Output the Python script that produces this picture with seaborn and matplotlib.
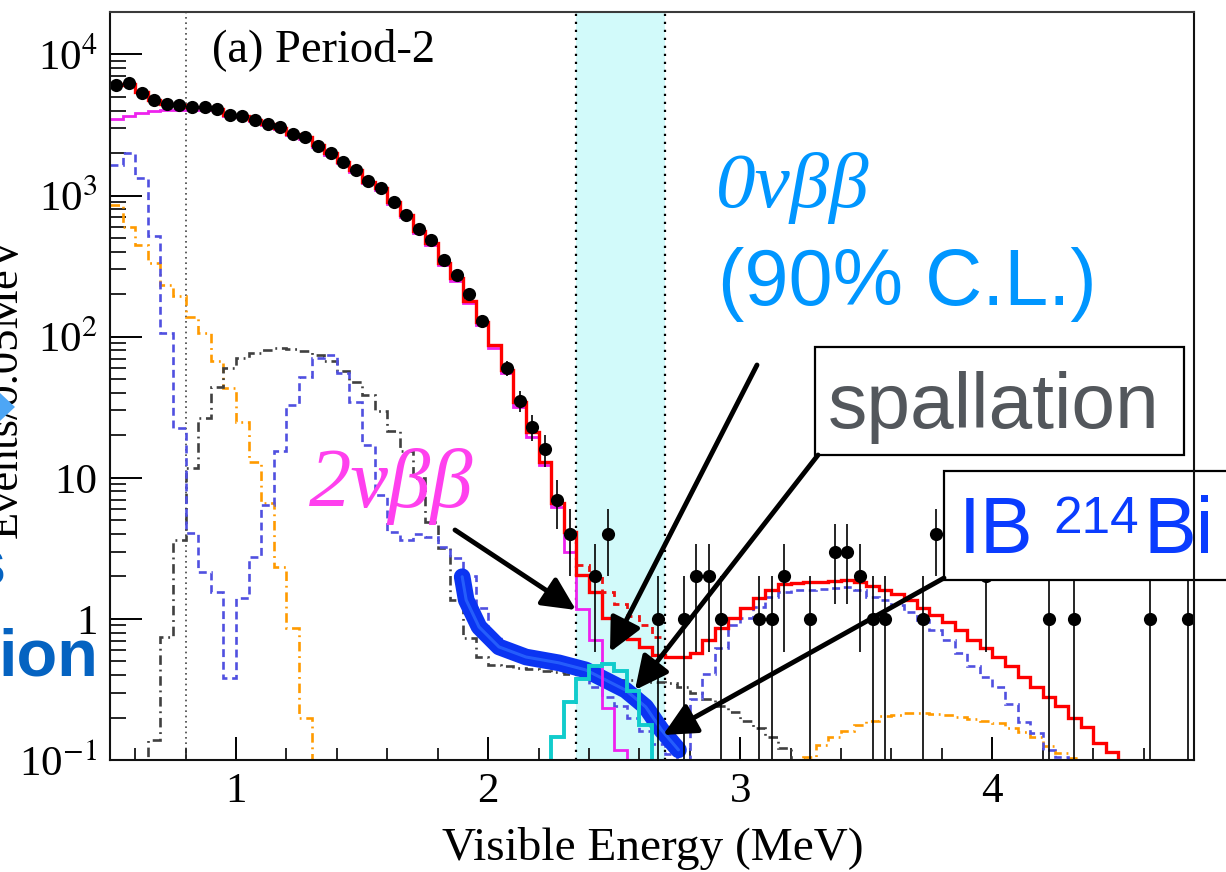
import numpy as np
import matplotlib
matplotlib.use("Agg")
import matplotlib.pyplot as plt
import seaborn as sns
from matplotlib.patches import Rectangle, Polygon
from matplotlib.ticker import FixedLocator, LogLocator, NullFormatter, MultipleLocator

W, H = 1226, 872

# ---------------------------------------------------------------- data
# 0.05 MeV bins between 0.5 and 4.8 MeV
edges = np.round(np.arange(0.5, 4.8001, 0.05), 3)
centers = edges[:-1] + 0.025
lo = 0.05          # below the drawn range (bin still drawn down to the axis)
nan = np.nan

data_counts = [
    6120, 6230, 5370, 4760, 4460, 4350, 4250, 4250, 4140, 3720,
    3690, 3460, 3240, 3040, 2750, 2580, 2260, 1990, 1740, 1530,
    1260, 1140, 907, 733, 583, 487, 352, 275, 202, 130,
    nan, 60, 35, 23, 16, 7, 4, 0, 2, 4,
    0, 0, 0, 1, 0, 1, 2, 2, 1, 0,
    0, 1, 1, 2, 0, 1, 0, 3, 3, 2,
    1, 1, 0, 0, 1, 4, 0, 0, 0, 2,
    0, 0, 0, 0, 1, 0, 1, 0, 0, 0,
    0, 0, 1, 0, 0, 1,
]

total_fit = [
    6100, 6200, 5400, 4750, 4450, 4350, 4250, 4250, 4130, 3750,
    3680, 3460, 3240, 3030, 2750, 2580, 2270, 1990, 1740, 1520,
    1250, 1130, 900, 730, 560, 460, 335, 260, 180, 127,
    88, 58, 34.5, 21, 13, 6.6, 4.14, 2.05, 1.55, 1.01,
    0.84, 0.72, 0.63, 0.555, 0.54, 0.54, 0.57, 0.71, 0.86, 1.01,
    1.2, 1.41, 1.6, 1.77, 1.8, 1.83, 1.83, 1.85, 1.89, 1.83,
    1.72, 1.6, 1.5, 1.36, 1.19, 1.07, 0.95, 0.83, 0.71, 0.62,
    0.54, 0.46, 0.39, 0.33, 0.28, 0.24, 0.20, 0.17, 0.133, 0.114,
    lo, lo, lo, lo, lo, lo,
]

total_with_0nbb = [nan] * 37 + [2.4, 2.05, 1.55, 1.27, 1.05, 0.9, 0.75] + [nan] * 42

two_nbb = [
    3500, 3660, 3860, 3960, 4030, 4060, 4060, 4060, 4030, 3680,
    3620, 3400, 3180, 2980, 2700, 2530, 2220, 1940, 1700, 1480,
    1220, 1100, 870, 700, 540, 445, 322, 250, 172, 121,
    83, 55, 32, 19.5, 12.3, 6.2, 3.0, 1.18, 0.71, 0.235,
    0.118,
] + [lo] * 45

zero_nbb = [nan] * 34 + [lo, 0.146, 0.258, 0.375, 0.46, 0.48, 0.43, 0.31, 0.177, lo] + [nan] * 42

bi214_ib = [
    1660, 1990, 1340, 520, 107, 22.6, 4.07, 2.16, 1.55, 0.38,
    1.41, 2.75, 6.4, 15.6, 33, 52, 71, 74, 55, 34.6,
    17, 7.6, 4.16, 3.6, 4.0, 3.8, 3.24, 2.7, 2.0, 1.2,
    0.75, 0.6, 0.55, 0.5, 0.47, 0.45, 0.42, 0.38, 0.33, 0.28,
    0.24, 0.2, 0.16, 0.13, 0.11, lo, 0.27, 0.41, 0.62, 0.9,
    1.01, 1.22, 1.42, 1.55, 1.6, 1.6, 1.63, 1.66, 1.68, 1.6,
    1.43, 1.36, 1.26, 1.12, 0.98, 0.84, 0.71, 0.57, 0.46, 0.39,
    0.33, 0.25, 0.186, 0.155, 0.118, 0.105, lo, lo, lo, lo,
    lo, lo, lo, lo, lo, lo,
]

spallation = [
    lo, lo, lo, 0.138, 0.75, 3.63, 11.8, 26.6, 44, 60,
    71, 77, 81, 83, 82, 79, 74, 67, 57, 47.5,
    38.7, 29.5, 21.5, 15.5, 10, 4.9, 3.2, 1.36, 0.73, 0.54,
    0.47, 0.46, 0.45, 0.44, 0.43, 0.42, 0.41, 0.40, 0.39, 0.38,
    0.37, 0.37, 0.36, 0.36, 0.35, 0.33, 0.30, 0.27, 0.24, 0.22,
    0.19, 0.168, 0.146, 0.122,
] + [lo] * 32

other_bkg = [
    853, 600, 449, 333, 234, 193, 139, 107, 67, 43.4,
    25, 13.0, 6.6, 2.35, 0.86, 0.198,
] + [lo] * 38 + [
    0.1, 0.105, 0.128, 0.145, 0.16, 0.177,
    0.19, 0.205, 0.21, 0.215, 0.215, 0.213, 0.21, 0.203, 0.195, 0.19,
    0.183, 0.168, 0.159, 0.146, 0.125, 0.112, 0.103,
] + [lo] * 9

# highlighted IB 214Bi contribution (energy in MeV, events)
band_energy = [1.897, 1.913, 1.964, 2.043, 2.150, 2.281, 2.387, 2.466, 2.545, 2.625, 2.688, 2.755]
band_events = [1.99, 1.36, 0.877, 0.633, 0.537, 0.488, 0.435, 0.369, 0.313, 0.238, 0.163, 0.118]

roi = (2.35, 2.70)
y_ticks = [0.1, 1, 10, 100, 1000, 10000]
y_tick_labels = ["10$^{-1}$", "1", "10", "10$^{2}$", "10$^{3}$", "10$^{4}$"]
x_ticks = [1, 2, 3, 4]

# ---------------------------------------------------------------- style
sns.set_theme(style="ticks")
plt.rcParams["font.family"] = ["Liberation Serif", "DejaVu Serif"]
plt.rcParams["mathtext.fontset"] = "stix"
plt.rcParams["axes.unicode_minus"] = True

SANS = ["Liberation Sans", "DejaVu Sans"]
SERIF = ["Liberation Serif", "DejaVu Serif"]


def P(x, y):
    """pixel position (from top-left) -> figure fraction"""
    return (x / W, 1 - y / H)


fig = plt.figure(figsize=(W / 100, H / 100), dpi=100)
fig.patch.set_facecolor("white")
ax = fig.add_axes([110 / W, 1 - 760 / H, (1194 - 110) / W, (760 - 12) / H])
ax.set_facecolor("white")
ax.set_yscale("log")
ax.set_xlim(0.5, 4.8)
ax.set_ylim(0.1, 2.0e4)

# signal region
ax.axvspan(*roi, color="#d2fafa", lw=0, zorder=0.5)
for e in roi:
    ax.axvline(e, color="black", lw=1.6, ls=(0, (1, 2.6)), zorder=1)
ax.axvline(0.8, color="#444444", lw=1.2, ls=(0, (1, 2.2)), zorder=1)

# fit components
ax.stairs(other_bkg, edges, baseline=None, color="#ff9a00", lw=1.9,
          ls=(0, (3.6, 1.8, 0.7, 1.8)), zorder=2)
ax.stairs(spallation, edges, baseline=None, color="#404040", lw=1.9,
          ls=(0, (3.6, 1.8, 0.7, 1.8)), zorder=2)
ax.stairs(bi214_ib, edges, baseline=None, color="#5050e0", lw=1.9,
          ls=(0, (3.0, 1.8)), zorder=2)

ax.plot(band_energy, band_events, color="#0b34f2", lw=12, solid_capstyle="round",
        solid_joinstyle="round", zorder=2.1)
ax.plot(band_energy, band_events, color="#2f6cff", lw=2.2, alpha=0.75,
        solid_capstyle="round", zorder=2.15)

ax.stairs(two_nbb, edges, baseline=None, color="#ee22ee", lw=2.0, zorder=2.2)
ax.stairs(zero_nbb, edges, baseline=None, color="#11cccc", lw=2.8, zorder=2.3)
ax.stairs(total_fit, edges, baseline=None, color="#ff0000", lw=2.4, zorder=2.5)
ax.stairs(total_with_0nbb, edges, baseline=None, color="#ee1111", lw=2.0,
          ls=(0, (2.5, 2.0)), zorder=2.6)

# data with Poisson errors
counts = np.array(data_counts, dtype=float)
shown = np.isfinite(counts) & (counts > 0)
xd, yd = centers[shown], counts[shown]
err = np.sqrt(yd)
ax.vlines(xd, np.maximum(yd - err, 1e-3), yd + err, color="black", lw=1.2, zorder=3)
sns.scatterplot(x=xd, y=yd, ax=ax, color="black", s=90, edgecolor="black",
                linewidth=0, zorder=3.1, legend=False)

# axes frame and ticks
for side in ["left", "bottom", "top", "right"]:
    ax.spines[side].set_visible(True)
    ax.spines[side].set_linewidth(1.5)
    ax.spines[side].set_color("#111111")
    ax.spines[side].set_zorder(5)
ax.spines["top"].set_color("#3a3a3a")

ax.yaxis.set_major_locator(FixedLocator(y_ticks))
ax.set_yticklabels(y_tick_labels)
ax.yaxis.set_minor_locator(LogLocator(base=10, subs=np.arange(2, 10)))
ax.yaxis.set_minor_formatter(NullFormatter())
ax.xaxis.set_major_locator(FixedLocator(x_ticks))
ax.set_xticklabels([str(v) for v in x_ticks])
ax.xaxis.set_minor_locator(MultipleLocator(0.2))

ax.tick_params(axis="x", which="major", direction="in", length=16.5, width=1.4,
               pad=9, labelsize=31, top=False, colors="black")
ax.tick_params(axis="x", which="minor", direction="in", length=8.5, width=1.4, top=False)
ax.tick_params(axis="y", which="major", direction="in", length=23, width=1.4,
               pad=9, labelsize=31, right=False, colors="black")
ax.tick_params(axis="y", which="minor", direction="in", length=11.5, width=1.4, right=False)
ax.set_xlabel("")
ax.set_ylabel("")

fig.text(*P(653, 860), "Visible Energy (MeV)", ha="center", va="baseline",
         fontsize=34, family=SERIF, color="black")
fig.text(*P(17, 387), "Events/0.05MeV", rotation=90, rotation_mode="anchor",
         ha="center", va="baseline", fontsize=32, family=SERIF, color="black")

ax.text(*P(212, 61), "(a) Period-2", transform=fig.transFigure, ha="left",
        va="baseline", fontsize=33.5, family=SERIF, color="black", zorder=6)

# annotations
ax.text(*P(716, 207), "0vββ", transform=fig.transFigure, ha="left", va="baseline",
        fontsize=57, family=SERIF, style="italic", color="#0096ff", zorder=6)
ax.text(*P(718, 305), "(90% C.L.)", transform=fig.transFigure, ha="left",
        va="baseline", fontsize=57, family=SANS, color="#0096ff", zorder=6)
ax.text(*P(309, 507), "2vββ", transform=fig.transFigure, ha="left", va="baseline",
        fontsize=61, family=SERIF, style="italic", color="#ff40ee", zorder=6)

box_sp = Rectangle(P(815, 455), (1184 - 815) / W, (455 - 347) / H,
                   transform=fig.transFigure, facecolor="white", edgecolor="black",
                   lw=1.6, zorder=4, clip_on=False)
ax.add_artist(box_sp)
ax.text(*P(828, 428), "spallation", transform=fig.transFigure, ha="left",
        va="baseline", fontsize=56.5, family=SANS, color="#53575c", zorder=6)

box_ib = Rectangle(P(944, 580), (1250 - 944) / W, (580 - 471) / H,
                   transform=fig.transFigure, facecolor="white", edgecolor="black",
                   lw=1.6, zorder=4, clip_on=False)
ax.add_artist(box_ib)
ax.text(*P(959, 553), "IB", transform=fig.transFigure, ha="left", va="baseline",
        fontsize=57, family=SANS, color="#0a3cff", zorder=6)
ax.text(*P(1053, 533), "214", transform=fig.transFigure, ha="left", va="baseline",
        fontsize=37, family=SANS, color="#0a3cff", zorder=6)
ax.text(*P(1144, 553), "Bi", transform=fig.transFigure, ha="left", va="baseline",
        fontsize=57, family=SANS, color="#0a3cff", zorder=6)

arrows = [((455, 530), (576, 610)),
          ((757, 365), (610, 652)),
          ((818, 455), (635, 690)),
          ((944, 578), (663, 735))]
for tail, tip in arrows:
    ax.annotate("", xy=P(*tip), xytext=P(*tail), xycoords="figure fraction",
                textcoords="figure fraction", annotation_clip=False, zorder=6,
                arrowprops=dict(arrowstyle="-|>,head_length=0.45,head_width=0.22",
                                lw=3.5, color="black", shrinkA=0, shrinkB=0,
                                mutation_scale=45))

# slide overlay fragments on the left margin
fig.text(*P(98, 675), "ion", ha="right", va="baseline", fontsize=48,
         family=SANS, weight="bold", color="#0563c1")
fig.text(*P(6, 585), "s", ha="right", va="baseline", fontsize=48,
         family=SANS, weight="bold", color="#0563c1")
fig.patches.append(Polygon([P(0, 393), P(15, 407), P(0, 421)], closed=True,
                           transform=fig.transFigure, facecolor="#4da6f5",
                           edgecolor="none", zorder=10))

fig.savefig("out.png", dpi=100, facecolor="white")
